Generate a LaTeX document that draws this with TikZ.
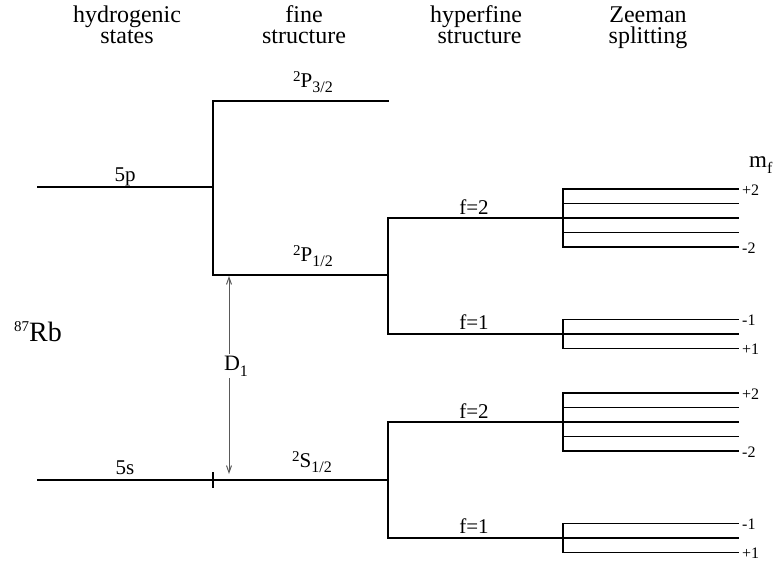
\documentclass[tikz,border=0pt]{standalone}
\usepackage{fontspec}
\setmainfont{Liberation Serif}
\usetikzlibrary{arrows.meta}
\newcommand{\fsz}[1]{\fontsize{#1}{#1}\selectfont}
\newcommand{\lvl}[3]{{\fsz{15}\raisebox{6pt}{#1}}#2{\fsz{16}\raisebox{-5pt}{#3}}}
\begin{document}
\begin{tikzpicture}[x=1pt,y=-1pt,
  level/.style={line width=1.2pt,line cap=rect},
  head/.style={anchor=base,align=center,inner sep=0pt,font=\fontsize{24}{21}\selectfont},
  lab/.style={anchor=base,inner sep=0pt,font=\fsz{21}},
  mlab/.style={anchor=west,inner sep=0pt,font=\fsz{16}},
  arr/.style={draw=black!65,line width=1pt,{Straight Barb[length=7pt,width=5pt]}-{Straight Barb[length=7pt,width=5pt]}}]
\useasboundingbox (0,0) rectangle (781,568);
% headers
\node[head] (h1) at (127,43) {hydrogenic\\states};
\node[head] (h2) at (304,43) {fine\\structure};
\node[head] (h3) at (476,43) {hyperfine\\\hspace*{7pt}structure};
\node[head] (h4) at (648,43) {Zeeman\\splitting};
% coordinates
\coordinate (p0) at (38,187);
\coordinate (p1) at (213,187);
\coordinate (v1t) at (213,101);
\coordinate (v1b) at (213,275);
\coordinate (p32) at (388,101);
\coordinate (p12) at (388,275);
\coordinate (s0) at (38,480);
\coordinate (s1) at (388,480);
\coordinate (tk1) at (213,473);
\coordinate (tk2) at (213,487);
% upper hyperfine
\coordinate (u2a) at (388,218);
\coordinate (u2b) at (563,218);
\coordinate (u1a) at (388,334);
\coordinate (u1b) at (563,334);
% lower hyperfine
\coordinate (l2a) at (388,422);
\coordinate (l2b) at (563,422);
\coordinate (l1a) at (388,538);
\coordinate (l1b) at (563,538);
% levels
\draw[level] (p0) -- (p1);
\draw[level] (v1t) -- (v1b);
\draw[level] (v1t) -- (p32);
\draw[level] (v1b) -- (p12);
\draw[level] (s0) -- (s1);
\draw[level] (tk1) -- (tk2);
\draw[level] (u2a) -- (u1a);
\draw[level] (u2a) -- (u2b);
\draw[level] (u1a) -- (u1b);
\draw[level] (l2a) -- (l1a);
\draw[level] (l2a) -- (l2b);
\draw[level] (l1a) -- (l1b);
% Zeeman f=2 (5 sublevels)
\foreach \c/\n in {218/uz2,422/lz2}{
  \foreach \k in {-2,...,2}{
    \coordinate (\n a\k) at (563,\c+14.5*\k);
    \coordinate (\n b\k) at (738,\c+14.5*\k);
    \draw[level] (\n a\k) -- (\n b\k);
  }
  \draw[level] (\n a-2) -- (\n a2);
}
\foreach \c/\n in {334/uz1,538/lz1}{
  \foreach \k in {-1,0,1}{
    \coordinate (\n a\k) at (563,\c+14.5*\k);
    \coordinate (\n b\k) at (738,\c+14.5*\k);
    \draw[level] (\n a\k) -- (\n b\k);
  }
  \draw[level] (\n a-1) -- (\n a1);
}
% m_f labels
\node[mlab] (m1) at ([xshift=4pt,yshift=-1pt]uz2b-2) {+2};
\node[mlab] (m2) at ([xshift=4pt,yshift=-1pt]uz2b2) {-2};
\node[mlab] (m3) at ([xshift=4pt,yshift=-1pt]uz1b-1) {-1};
\node[mlab] (m4) at ([xshift=4pt,yshift=-1pt]uz1b1) {+1};
\node[mlab] (m5) at ([xshift=4pt,yshift=-1pt]lz2b-2) {+2};
\node[mlab] (m6) at ([xshift=4pt,yshift=-1pt]lz2b2) {-2};
\node[mlab] (m7) at ([xshift=4pt,yshift=-1pt]lz1b-1) {-1};
\node[mlab] (m8) at ([xshift=4pt,yshift=-1pt]lz1b1) {+1};
\node[anchor=base west,inner sep=0pt,font=\fsz{23}] (mf) at (749,167) {m{\fsz{16}\raisebox{-6pt}{f}}};
% labels
\node[lab] (l5p) at (125,181) {5p};
\node[lab] (l5s) at (125,474) {5s};
\node[lab] (lp32) at (313,87) {\lvl{2}{P}{3/2}};
\node[lab] (lp12) at (313,261) {\lvl{2}{P}{1/2}};
\node[lab] (ls12) at (312,467) {\lvl{2}{S}{1/2}};
\node[lab] (lf2u) at (474,214) {f=2};
\node[lab] (lf1u) at (474,329) {f=1};
\node[lab] (lf2l) at (474,418) {f=2};
\node[lab] (lf1l) at (474,533) {f=1};
\node[anchor=base,inner sep=0pt,font=\fsz{28}] (rb) at (38,341) {{\fsz{15}\raisebox{10pt}{87}}Rb};
% D1 arrow
\coordinate (d1t) at (229,276);
\coordinate (d1b) at (229,474);
\draw[arr] (d1t) -- (d1b);
\node[anchor=base,fill=white,inner sep=2pt,font=\fsz{22}] (d1) at (236,370) {D{\fsz{16}\raisebox{-6pt}{1}}};
\end{tikzpicture}
\end{document}
